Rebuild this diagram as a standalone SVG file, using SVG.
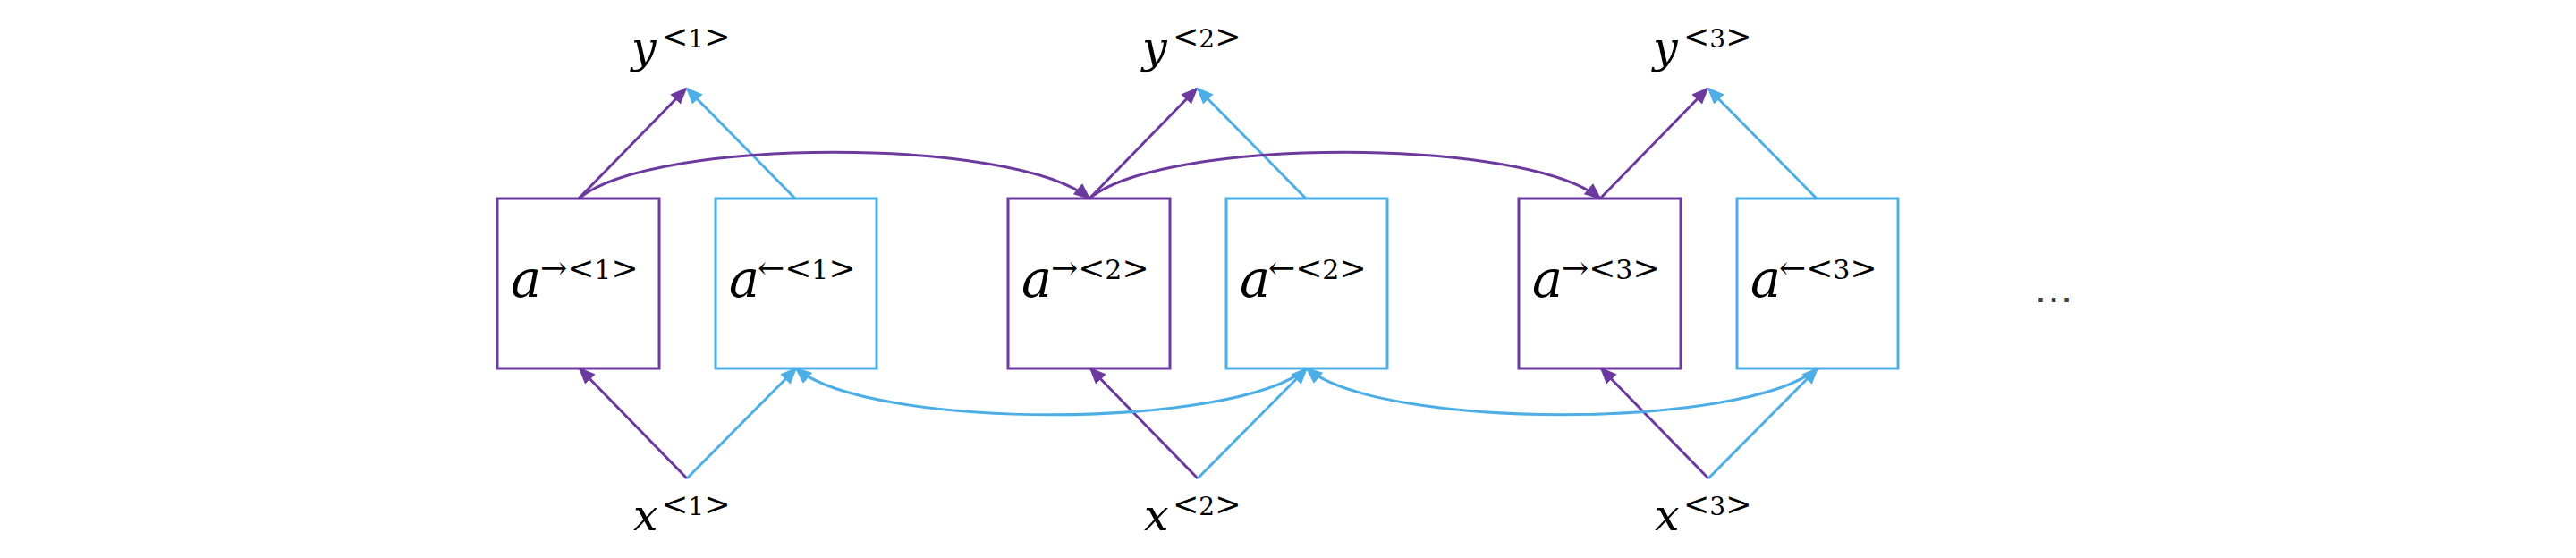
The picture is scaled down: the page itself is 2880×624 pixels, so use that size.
<svg xmlns="http://www.w3.org/2000/svg" width="2880" height="624" viewBox="0 0 2880 624">
<style>
.bg{fill:#ffffff}
.pbox{fill:#ffffff;stroke:#6C3A9E;stroke-width:3}
.bbox{fill:#ffffff;stroke:#4DAEE6;stroke-width:3}
.pl{fill:none;stroke:#6C3A9E;stroke-width:3;marker-end:url(#ap)}
.bl{fill:none;stroke:#4DAEE6;stroke-width:3;marker-end:url(#ab)}
.it{font-family:"DejaVu Serif","Liberation Serif",serif;font-style:italic;fill:#000}
.sup{font-family:"DejaVu Serif","Liberation Serif",serif;fill:#000}
.big{font-size:57px}
.med{font-size:49px}
.ya{font-size:35px}
.yd{font-size:28px}
.ba{font-size:36px}
.bd{font-size:30px}
.dots{font-family:"Liberation Sans",Arial,sans-serif;font-size:46px;fill:#404040}
</style>
<defs>
<marker id="ap" viewBox="0 0 19 16" refX="17" refY="8" markerWidth="19" markerHeight="16" markerUnits="userSpaceOnUse" orient="auto">
<path d="M0,0 L19,8 L0,16 z" fill="#6C3A9E"/>
</marker>
<marker id="ab" viewBox="0 0 19 16" refX="17" refY="8" markerWidth="19" markerHeight="16" markerUnits="userSpaceOnUse" orient="auto">
<path d="M0,0 L19,8 L0,16 z" fill="#4DAEE6"/>
</marker>
</defs>
<rect class="bg" x="0" y="0" width="2880" height="624"/>

<g id="connectors">
<line class="pl" x1="647" y1="222" x2="767" y2="99"/>
<line class="bl" x1="889" y1="222" x2="768" y2="99"/>
<line class="pl" x1="768" y1="535" x2="648" y2="412"/>
<line class="bl" x1="768" y1="535" x2="890" y2="412"/>

<line class="pl" x1="1218" y1="222" x2="1338" y2="99"/>
<line class="bl" x1="1460" y1="222" x2="1339" y2="99"/>
<line class="pl" x1="1339" y1="535" x2="1219" y2="412"/>
<line class="bl" x1="1339" y1="535" x2="1461" y2="412"/>

<line class="pl" x1="1789" y1="222" x2="1909" y2="99"/>
<line class="bl" x1="2031" y1="222" x2="1910" y2="99"/>
<line class="pl" x1="1910" y1="535" x2="1790" y2="412"/>
<line class="bl" x1="1910" y1="535" x2="2032" y2="412"/>

<path class="pl" d="M647,222 C730,153 1135,153 1218,222"/>
<path class="pl" d="M1218,222 C1301,153 1706,153 1789,222"/>
<path class="bl" d="M1461,412 C1378,481 973,481 890,412"/>
<path class="bl" d="M2032,412 C1949,481 1544,481 1461,412"/>
</g>

<g id="a-fwd-1">
<rect class="pbox" x="556" y="222" width="181" height="190"/>
<text class="it big" x="571" y="332">a</text>
<text class="sup" x="604" y="312"><tspan class="ba">→&lt;</tspan><tspan class="bd">1</tspan><tspan class="ba">&gt;</tspan></text>
</g>
<g id="a-bwd-1">
<rect class="bbox" x="800" y="222" width="180" height="190"/>
<text class="it big" x="815" y="332">a</text>
<text class="sup" x="847" y="312"><tspan class="ba">←&lt;</tspan><tspan class="bd">1</tspan><tspan class="ba">&gt;</tspan></text>
</g>
<g id="a-fwd-2">
<rect class="pbox" x="1127" y="222" width="181" height="190"/>
<text class="it big" x="1142" y="332">a</text>
<text class="sup" x="1175" y="312"><tspan class="ba">→&lt;</tspan><tspan class="bd">2</tspan><tspan class="ba">&gt;</tspan></text>
</g>
<g id="a-bwd-2">
<rect class="bbox" x="1371" y="222" width="180" height="190"/>
<text class="it big" x="1386" y="332">a</text>
<text class="sup" x="1418" y="312"><tspan class="ba">←&lt;</tspan><tspan class="bd">2</tspan><tspan class="ba">&gt;</tspan></text>
</g>
<g id="a-fwd-3">
<rect class="pbox" x="1698" y="222" width="181" height="190"/>
<text class="it big" x="1713" y="332">a</text>
<text class="sup" x="1746" y="312"><tspan class="ba">→&lt;</tspan><tspan class="bd">3</tspan><tspan class="ba">&gt;</tspan></text>
</g>
<g id="a-bwd-3">
<rect class="bbox" x="1942" y="222" width="180" height="190"/>
<text class="it big" x="1957" y="332">a</text>
<text class="sup" x="1989" y="312"><tspan class="ba">←&lt;</tspan><tspan class="bd">3</tspan><tspan class="ba">&gt;</tspan></text>
</g>

<g id="y-1">
<text class="it med" x="706" y="70">y</text>
<text class="sup" x="740" y="53"><tspan class="ya">&lt;</tspan><tspan class="yd">1</tspan><tspan class="ya">&gt;</tspan></text>
</g>
<g id="y-2">
<text class="it med" x="1277" y="70">y</text>
<text class="sup" x="1311" y="53"><tspan class="ya">&lt;</tspan><tspan class="yd">2</tspan><tspan class="ya">&gt;</tspan></text>
</g>
<g id="y-3">
<text class="it med" x="1848" y="70">y</text>
<text class="sup" x="1882" y="53"><tspan class="ya">&lt;</tspan><tspan class="yd">3</tspan><tspan class="ya">&gt;</tspan></text>
</g>

<g id="x-1">
<text class="it med" x="708" y="593">x</text>
<text class="sup" x="740" y="576"><tspan class="ya">&lt;</tspan><tspan class="yd">1</tspan><tspan class="ya">&gt;</tspan></text>
</g>
<g id="x-2">
<text class="it med" x="1279" y="593">x</text>
<text class="sup" x="1311" y="576"><tspan class="ya">&lt;</tspan><tspan class="yd">2</tspan><tspan class="ya">&gt;</tspan></text>
</g>
<g id="x-3">
<text class="it med" x="1850" y="593">x</text>
<text class="sup" x="1882" y="576"><tspan class="ya">&lt;</tspan><tspan class="yd">3</tspan><tspan class="ya">&gt;</tspan></text>
</g>

<g id="ellipsis">
<text class="dots" x="2273" y="338">…</text>
</g>
</svg>
